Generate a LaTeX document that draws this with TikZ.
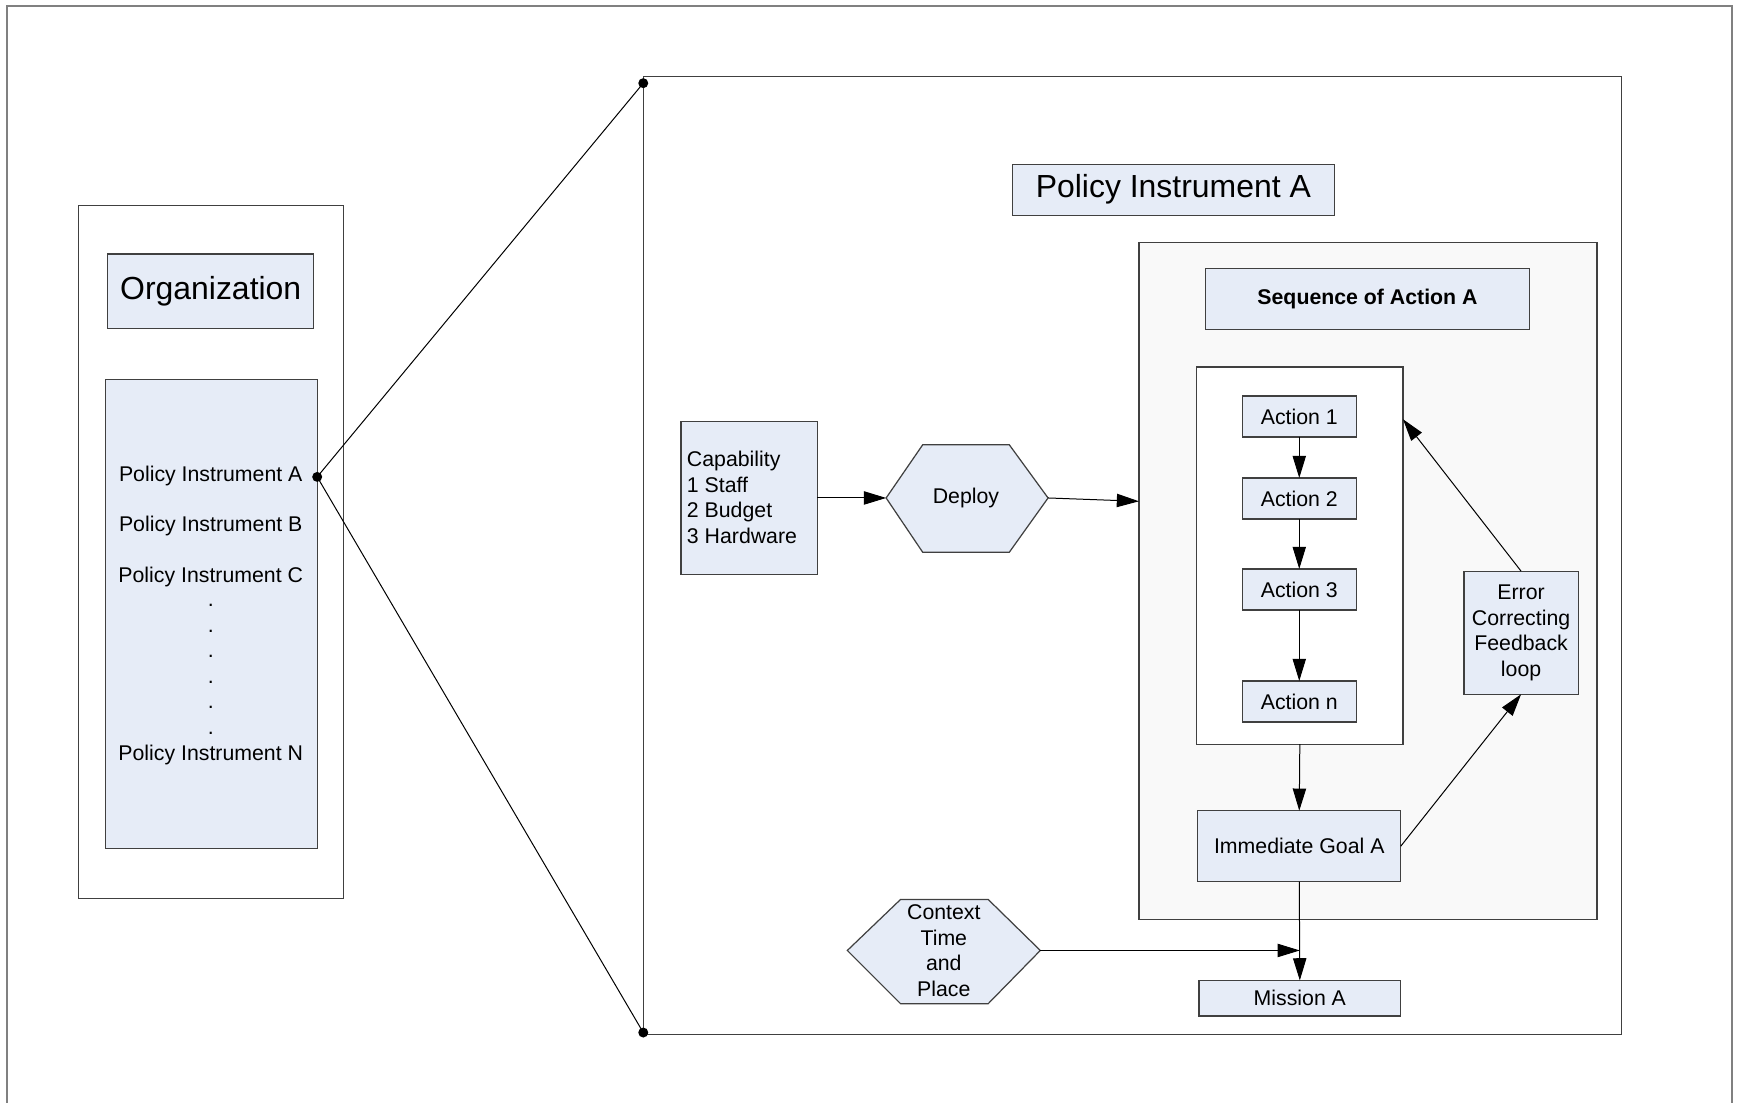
\documentclass[tikz,border=0pt]{standalone}
\usepackage{fontspec}
\setmainfont{Liberation Sans}
\usetikzlibrary{arrows.meta}
\definecolor{boxblue}{HTML}{E6ECF7}
\definecolor{seqgray}{HTML}{F9F9F9}
\definecolor{boxline}{HTML}{404040}
\definecolor{framegray}{HTML}{808080}
\begin{document}
\begin{tikzpicture}[x=0.5pt,y=-0.5pt,
  sz/.style 2 args={minimum width=#1*0.5pt,minimum height=#2*0.5pt},
  bluebox/.style={draw=boxline,fill=boxblue,line width=0.55pt,inner sep=0pt,outer sep=0pt},
  plainbox/.style={draw=boxline,fill=white,line width=0.55pt,inner sep=0pt,outer sep=0pt},
  graybox/.style={draw=boxline,fill=seqgray,line width=0.55pt,inner sep=0pt,outer sep=0pt},
  conn/.style={draw=black,line width=0.45pt,-{Triangle[length=10pt,width=6pt]}},
  link/.style={draw=black,line width=0.45pt},
  smalltxt/.style={font=\fontsize{9.6}{11.5}\selectfont},
  boldtxt/.style={font=\fontsize{9.6}{11.5}\selectfont\bfseries},
  bigtxt/.style={font=\fontsize{14.4}{17}\selectfont},
  listtxt/.style={font=\fontsize{9.6}{11.5}\selectfont,anchor=base,inner sep=0pt},
  dotmark/.style={fill=black,draw=none,circle,inner sep=0pt,minimum size=4.5pt}]
\useasboundingbox (0,0) rectangle (1568,994);
% outer frame
\draw[framegray,line width=0.9pt] (6,1000) -- (6,5) -- (1562,5) -- (1562,1000);

% left organization column
\node[plainbox,sz={239}{625}] (orgframe) at (190.5,497.5) {};
\node[bluebox,bigtxt,sz={186}{67}] (org) at (190,262.5) {Organization};
\node[bluebox,sz={191}{423}] (list) at (190.5,553.5) {};
\node[listtxt] (pia) at (190,434) {Policy Instrument A};
\node[listtxt] (pib) at (190,479) {Policy Instrument B};
\node[listtxt] (pic) at (190,525) {Policy Instrument C};
\foreach \yy [count=\k] in {547,570,593,616,639,662}
  \node[listtxt] (dot\k) at (190,\yy) {.};
\node[listtxt] (pin) at (190,686) {Policy Instrument N};

% big frame
\node[plainbox,sz={882}{864}] (big) at (1021,501) {};
\node[dotmark] (pa) at (286,430) {};
\node[dotmark] (ptop) at (580,75) {};
\node[dotmark] (pbot) at (580,931) {};
\draw[link] (pa.center) -- (ptop.center);
\draw[link] (pa.center) -- (pbot.center);

\node[bluebox,bigtxt,sz={290}{46}] (title) at (1058,171) {Policy Instrument A};

% capability
\node[bluebox,sz={123}{138}] (cap) at (675.5,449) {};
\node[smalltxt,align=left,anchor=west,inner sep=0pt] (captxt) at (619,448.5) {Capability\\1 Staff\\2 Budget\\3 Hardware};

% deploy hexagon
\coordinate (depW) at (799,449);
\coordinate (depE) at (945,449);
\draw[boxline,fill=boxblue,line width=0.55pt] (depW) -- (832,401) -- (910,401) -- (depE) -- (910,498) -- (832,498) -- cycle;
\node[smalltxt] (dep) at (871,449) {Deploy};

% sequence area
\node[graybox,sz={413}{610}] (seq) at (1233.5,524) {};
\node[bluebox,boldtxt,sz={292}{55}] (seqtitle) at (1233,269.5) {Sequence of Action A};
\node[plainbox,sz={186}{340}] (inner) at (1172,501) {};
\node[bluebox,smalltxt,sz={103}{37}] (a1) at (1171.5,375.5) {Action 1};
\node[bluebox,smalltxt,sz={103}{37}] (a2) at (1171.5,449.5) {Action 2};
\node[bluebox,smalltxt,sz={103}{37}] (a3) at (1171.5,531.5) {Action 3};
\node[bluebox,smalltxt,sz={103}{37}] (an) at (1171.5,632.5) {Action n};
\node[bluebox,smalltxt,align=center,sz={103}{111}] (err) at (1371.5,570.5) {Error\\Correcting\\Feedback\\loop};
\node[bluebox,smalltxt,sz={183}{64}] (goal) at (1171.5,763) {Immediate Goal A};
\node[bluebox,smalltxt,sz={182}{32}] (mis) at (1172,900) {Mission A};

% context hexagon
\coordinate (ctxW) at (764,857);
\coordinate (ctxE) at (938,857);
\draw[boxline,fill=boxblue,line width=0.55pt] (ctxW) -- (812,811) -- (891,811) -- (ctxE) -- (891,905) -- (812,905) -- cycle;
\node[smalltxt,align=center,inner sep=0pt] (ctx) at (851,857) {Context\\Time\\and\\Place};

% connectors
\coordinate (seqin) at (1027,452);
\coordinate (fbin) at (1265,378);
\coordinate (join) at (1172,857);
\draw[conn] (cap.east) -- (depW);
\draw[conn] (depE) -- (seqin);
\draw[conn] (a1.south) -- (a2.north);
\draw[conn] (a2.south) -- (a3.north);
\draw[conn] (a3.south) -- (an.north);
\draw[conn] (inner.south) -- (goal.north);
\draw[conn] (goal.east) -- (err.south);
\draw[conn] (err.north) -- (fbin);
\draw[conn] (goal.south) -- (mis.north);
\draw[conn] (ctxE) -- (join);
\end{tikzpicture}
\end{document}
